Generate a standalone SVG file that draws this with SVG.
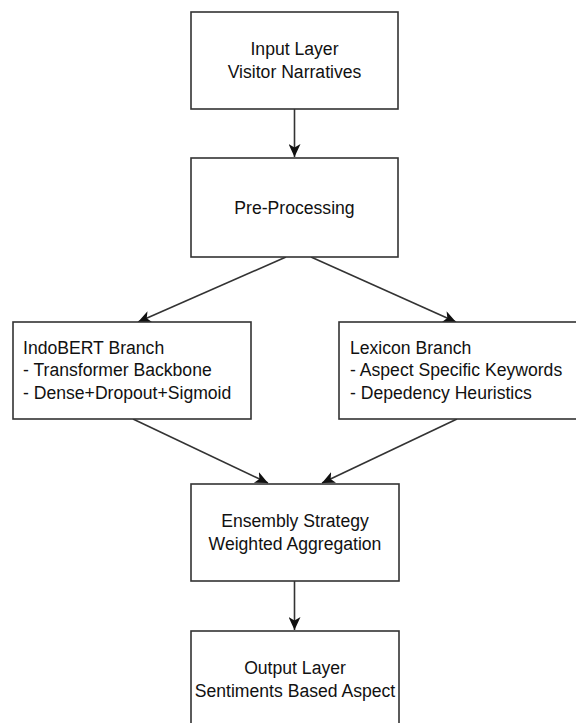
<svg xmlns="http://www.w3.org/2000/svg" width="576" height="723" viewBox="0 0 576 723">
<style>
.box{fill:#fff;stroke:#333;stroke-width:1.6}
.t{font-family:"Liberation Sans",Arial,sans-serif;font-size:17.6px;fill:#111}
.c{text-anchor:middle}
.edge{stroke:#333;stroke-width:1.6;fill:none;marker-end:url(#ah)}
</style>
<defs>
<marker id="ah" markerUnits="userSpaceOnUse" markerWidth="14" markerHeight="12" viewBox="0 0 14 12" refX="13" refY="6" orient="auto">
<path d="M0,0 L13,6 L0,12 L3.5,6 z" fill="#111"/>
</marker>
</defs>
<rect width="576" height="723" fill="#fff"/>
<g id="edges">
<line class="edge" x1="294.5" y1="109" x2="294.5" y2="157"/>
<line class="edge" x1="286" y1="257" x2="138" y2="322"/>
<line class="edge" x1="311" y1="257" x2="456" y2="322"/>
<line class="edge" x1="133" y1="419" x2="268" y2="483"/>
<line class="edge" x1="457" y1="419" x2="322" y2="483"/>
<line class="edge" x1="294.5" y1="581" x2="294.5" y2="630"/>
</g>
<g id="input">
<rect class="box" x="191" y="12" width="207" height="97"/>
<text class="t c" x="294.5" y="55">Input Layer</text>
<text class="t c" x="294.5" y="78">Visitor Narratives</text>
</g>
<g id="preprocessing">
<rect class="box" x="191" y="158" width="207" height="99"/>
<text class="t c" x="294.5" y="213.5">Pre-Processing</text>
</g>
<g id="indobert">
<rect class="box" x="13" y="322" width="238" height="97"/>
<text class="t" x="23" y="353.5">IndoBERT Branch</text>
<text class="t" x="23" y="376">- Transformer Backbone</text>
<text class="t" x="23" y="398.5">- Dense+Dropout+Sigmoid</text>
</g>
<g id="lexicon">
<rect class="box" x="339" y="322" width="238" height="97"/>
<text class="t" x="350" y="353.5">Lexicon Branch</text>
<text class="t" x="350" y="376">- Aspect Specific Keywords</text>
<text class="t" x="350" y="398.5">- Depedency Heuristics</text>
</g>
<g id="ensemble">
<rect class="box" x="191" y="484" width="208" height="97"/>
<text class="t c" x="295" y="527">Ensembly Strategy</text>
<text class="t c" x="295" y="550">Weighted Aggregation</text>
</g>
<g id="output">
<rect class="box" x="191" y="631" width="208" height="97"/>
<text class="t c" x="295" y="674">Output Layer</text>
<text class="t c" x="295" y="697">Sentiments Based Aspect</text>
</g>
</svg>
